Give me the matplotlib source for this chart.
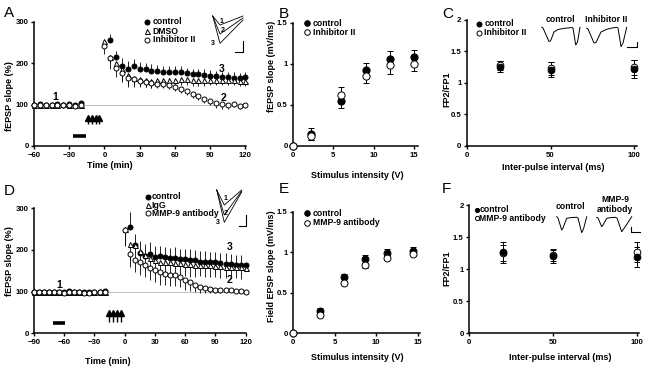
import matplotlib
matplotlib.use("Agg")
import matplotlib.pyplot as plt
import matplotlib.transforms as mtransforms
from matplotlib.ticker import FormatStrFormatter
import numpy as np

W, H = 647, 367

# ---------------- data ----------------
# A: LTP time course, inhibitor II
tA_base = np.arange(-60, -15, 5)
tA_post = np.arange(0, 125, 5)
A_ctrl_base = [100, 101, 99, 100, 101, 100, 101, 99, 103]
A_dmso_base = [100, 99, 100, 98, 100, 101, 100, 98, 100]
A_inh_base = [100, 100, 98, 99, 99, 100, 99, 97, 100]
A_ctrl_post = [256, 214, 193, 187, 193, 186, 186, 182, 181, 179, 178, 178, 178, 175,
               173, 173, 171, 170, 169, 166, 166, 165, 163, 166]  # from 5 min
A_ctrl_err = [15, 15, 20, 18, 17, 17, 15, 16, 15, 15, 15, 15, 14, 14, 14, 14, 14, 13,
              13, 13, 13, 13, 12, 12]
A_dmso_post = [254, 215, 200, 185, 172, 165, 162, 160, 158, 160, 160, 160, 160, 162,
               162, 160, 160, 160, 160, 160, 160, 160, 159, 158, 158]
A_dmso_err = [12, 15, 20, 28, 30, 22, 20, 18, 17, 16, 16, 15, 15, 15, 15, 14, 14, 14,
              13, 13, 13, 13, 12, 12, 12]
A_inh_post = [242, 212, 188, 175, 165, 162, 158, 155, 152, 150, 150, 147, 143, 138,
              132, 125, 120, 113, 108, 103, 101, 100, 101, 97, 98]
A_inh_err = [20, 25, 22, 20, 18, 14, 12, 12, 11, 10, 10, 10, 10, 10, 10, 10, 10, 9, 9,
             12, 12, 10, 8, 8, 6]
A_tetanus = [-14, -10.5, -7.5, -4.5]
A_drug_bar = [-27, -16]

# B: input-output
B_volt = [0, 2.2, 6, 9, 12, 15]
B_ctrl = [0, 0.14, 0.54, 0.92, 1.06, 1.08]
B_ctrl_err = [0, 0.07, 0.085, 0.09, 0.09, 0.09]
B_inh = [0, 0.12, 0.62, 0.85, 0.98, 1.0]
B_inh_err = [0, 0.05, 0.09, 0.08, 0.1, 0.09]

# C: paired-pulse
C_ipi = [20, 50, 100]
C_ctrl = [1.26, 1.21, 1.22]
C_ctrl_err = [0.09, 0.12, 0.15]
C_inh = [1.28, 1.23, 1.25]
C_inh_err = [0.07, 0.1, 0.12]

# D: LTP time course, MMP-9 antibody
tD_base = np.arange(-90, -15, 5)
tD_post = np.arange(0, 125, 5)
D_ctrl_base = [100, 99, 100, 99, 99, 100, 98, 101, 100, 99, 98, 99, 100, 100, 102]
D_igg_base = [100, 98, 99, 98, 99, 99, 98, 100, 100, 99, 98, 98, 99, 99, 100]
D_mmp_base = [100, 99, 98, 99, 98, 99, 97, 100, 99, 98, 97, 97, 98, 98, 100]
D_ctrl_post = [255, 213, 192, 186, 191, 184, 185, 182, 180, 181, 178, 178, 177, 175,
               172, 172, 170, 170, 168, 167, 166, 165, 165, 165]  # from 5 min
D_ctrl_err = [35, 25, 30, 28, 28, 25, 25, 25, 25, 25, 25, 25, 25, 25, 25, 25, 25, 25,
              25, 25, 24, 24, 24, 24]
D_igg_post = [250, 215, 212, 198, 187, 180, 175, 172, 171, 170, 168, 168, 167, 166,
              165, 165, 164, 163, 162, 161, 160, 160, 159, 158, 157]
D_igg_err = [40, 40, 38, 36, 35, 33, 32, 30, 30, 30, 30, 30, 30, 30, 30, 28, 28, 28,
             28, 28, 27, 27, 27, 27, 27]
D_mmp_post = [247, 190, 177, 170, 165, 157, 152, 147, 143, 141, 139, 135, 128, 123,
              117, 112, 108, 106, 104, 103, 105, 103, 102, 101, 100]
D_mmp_err = [35, 30, 30, 30, 30, 30, 30, 30, 28, 28, 26, 25, 24, 22, 18, 15, 12, 10,
             8, 6, 5, 4, 4, 3, 3]
D_tetanus = [-15.5, -11.5, -7.5, -3.5]
D_drug_bar = [-71.5, -59.5]

# E: input-output
E_volt = [0, 3.3, 6.1, 8.6, 11.3, 14.4]
E_ctrl = [0, 0.27, 0.69, 0.92, 0.99, 1.01]
E_ctrl_err = [0, 0.04, 0.04, 0.05, 0.05, 0.05]
E_mmp = [0, 0.23, 0.62, 0.84, 0.93, 0.98]
E_mmp_err = [0, 0.03, 0.03, 0.03, 0.03, 0.03]

# F: paired-pulse
F_ipi = [20, 50, 100]
F_ctrl = [1.26, 1.20, 1.19]
F_ctrl_err = [0.16, 0.10, 0.15]
F_mmp = [1.25, 1.22, 1.27]
F_mmp_err = [0.13, 0.09, 0.16]

# example fEPSP traces (inset units)
A_trace_t = [3.7, 11, 34]
A_traces = [[-4, -13, -4], [-4, -22, -6], [-4, -31.3, -8]]
D_trace_t = [4.7, 12.3, 29.7]
D_traces = [[-2, -17, -2], [-2, -27, -3], [-2, -34.3, -4]]
C_pp_t = [1.7, 3, 9, 10.5, 14, 18, 25, 32, 33, 35.7, 37.5, 40]
C_pp_ctrl = [-3.3, -4, -17.5, -17, -8, -5.5, -4.2, -3.6, -4, -21, -18, -3.3]
C_pp_t2 = [46.7, 48, 54, 56, 61, 66.7, 72, 76.7, 78, 81, 83, 86.7]
C_pp_inh = [-4.3, -5, -19, -18.5, -8, -5.3, -4, -3.3, -4, -22.7, -19, -3.3]
F_pp_t = [6.7, 8, 11.7, 13, 16.7, 22, 26.7, 28, 31.7, 33.5, 36.7]
F_pp_ctrl = [-6.7, -8, -20, -18, -8.3, -7.5, -7.3, -8, -22.7, -19, -6.7]
F_pp_t2 = [46.7, 48, 51.7, 53, 56.7, 61, 65, 67, 71.7, 75, 81.7]
F_pp_mmp = [-7.3, -8, -16.7, -15, -8.3, -7.6, -7.3, -8, -21.7, -17, -6.7]

# ---------------- style ----------------
plt.rcParams.update({
    "font.family": ["Liberation Sans", "DejaVu Sans"],
    "font.weight": "bold",
    "font.size": 6,
    "axes.linewidth": 1.1,
    "xtick.major.size": 2.2,
    "ytick.major.size": 2.2,
    "xtick.major.width": 1.0,
    "ytick.major.width": 1.0,
    "xtick.major.pad": 2,
    "ytick.major.pad": 1.6,
    "xtick.labelsize": 5.6,
    "ytick.labelsize": 5.6,
})

fig = plt.figure(figsize=(W / 100, H / 100), dpi=100)
PIX = mtransforms.Affine2D().scale(1 / W, -1 / H).translate(0, 1) + fig.transFigure
LBL = 6.5


def px_axes(x0, y0, x1, y1):
    return fig.add_axes([x0 / W, 1 - y1 / H, (x1 - x0) / W, (y1 - y0) / H])


def base_style(ax):
    for s in ("top", "right"):
        ax.spines[s].set_visible(False)
    ax.tick_params(direction="out", colors="k")


def set_labels(ax, xl, xpos, yl, ypos):
    ax.set_xlabel(xl, fontsize=LBL, fontweight="bold")
    ax.xaxis.set_label_coords(*xpos, transform=PIX)
    ax.xaxis.label.set_va("center")
    ax.set_ylabel(yl, fontsize=LBL, fontweight="bold")
    ax.yaxis.set_label_coords(*ypos, transform=PIX)
    ax.yaxis.label.set_va("center")


def legend_rows(ax, rows, mx, tx, ys, ms):
    for (marker, face, text), y in zip(rows, ys):
        ax.plot([mx], [y], marker=marker, ms=ms, mfc=face, mec="k", mew=0.7,
                ls="none", transform=PIX, clip_on=False)
        ax.text(tx, y, text, transform=PIX, va="center", ha="left", fontsize=6.2)


def one_sided(ax, t, y, err, up, zorder):
    z = np.zeros(len(err))
    yerr = [z, err] if up else [err, z]
    ax.errorbar(t, y, yerr=yerr, fmt="none", ecolor="k", elinewidth=0.6,
                capsize=0, zorder=zorder)


def pts(ax, t, y, marker, face, ms, zorder):
    ax.plot(t, y, ls="none", marker=marker, ms=ms, mfc=face, mec="k", mew=0.7,
            zorder=zorder, clip_on=False)


def tetanus(ax, times, y0, y1, ms):
    ax.vlines(times, y0, y1, color="k", lw=1.0)
    ax.plot(times, [y1] * len(times), ls="none", marker="^", ms=ms, color="k")


def inset_box(x0, y0, x1, y1):
    ia = px_axes(x0, y0, x1, y1)
    ia.set_xlim(0, x1 - x0)
    ia.set_ylim(-(y1 - y0), 0)
    ia.axis("off")
    return ia


def panel_letter(x, y, s):
    fig.text(x, y, s, transform=PIX, fontsize=11, fontweight="normal",
             va="baseline", ha="left")


# ---------------- A ----------------
ax = px_axes(34, 21.7, 246, 146)
base_style(ax)
ax.set_xlim(-60, 120.5)
ax.set_ylim(0, 300)
ax.set_xticks([-60, -30, 0, 30, 60, 90, 120])
ax.set_yticks([0, 100, 200, 300])
ax.axhline(100, color="#b5b5b5", lw=0.6, zorder=0)
one_sided(ax, tA_post[1:], A_ctrl_post, A_ctrl_err, True, 2)
one_sided(ax, tA_post, A_dmso_post, A_dmso_err, False, 2)
one_sided(ax, tA_post, A_inh_post, A_inh_err, False, 2)
pts(ax, tA_base, A_ctrl_base, "o", "k", 3.6, 3)
pts(ax, tA_post[1:], A_ctrl_post, "o", "k", 3.6, 3)
pts(ax, tA_base, A_dmso_base, "^", "white", 3.6, 4)
pts(ax, tA_post, A_dmso_post, "^", "white", 3.6, 4)
pts(ax, tA_base, A_inh_base, "o", "white", 3.6, 5)
pts(ax, tA_post, A_inh_post, "o", "white", 3.6, 5)
tetanus(ax, A_tetanus, 53, 68, 4.2)
ax.plot(A_drug_bar, [23, 23], color="k", lw=2.6, solid_capstyle="butt")
ax.text(-41.5, 118, "1", fontsize=7.5, ha="center", va="center")
ax.text(100, 186, "3", fontsize=7.5, ha="center", va="center")
ax.text(101.5, 115, "2", fontsize=7.5, ha="center", va="center")
set_labels(ax, "Time (min)", (110, 165.5), "fEPSP slope (%)", (10, 96))
legend_rows(ax, [("o", "k", "control"), ("^", "white", "DMSO"),
                 ("o", "white", "Inhibitor II")], 146.7, 152.7, [21.7, 31, 40], 3.6)
ia = inset_box(209, 12, 249, 56)
for tr in A_traces:
    ia.plot(A_trace_t, tr, color="k", lw=0.6)
ia.plot([26, 34.3, 34.3], [-39.7, -39.7, -28.7], color="k", lw=0.8)
for s, x, y in [("1", 12.7, -9.7), ("2", 13.7, -18.7), ("3", 4.3, -31.3)]:
    ia.text(x, y, s, fontsize=5, ha="center", va="center")
panel_letter(4, 17, "A")

# ---------------- B ----------------
ax = px_axes(293, 22.7, 418, 145.7)
base_style(ax)
ax.set_xlim(0, 15.5)
ax.set_ylim(0, 1.5)
ax.set_xticks([0, 5, 10, 15])
ax.set_yticks([0, 0.5, 1, 1.5])
ax.yaxis.set_major_formatter(FormatStrFormatter("%g"))
ax.errorbar(B_volt, B_ctrl, yerr=B_ctrl_err, fmt="none", ecolor="k", elinewidth=0.7,
            capsize=2, capthick=0.7, zorder=2)
ax.errorbar(B_volt, B_inh, yerr=B_inh_err, fmt="none", ecolor="k", elinewidth=0.7,
            capsize=2, capthick=0.7, zorder=2)
pts(ax, B_volt, B_ctrl, "o", "k", 5.2, 3)
pts(ax, B_volt, B_inh, "o", "white", 5.2, 4)
set_labels(ax, "Stimulus intensity (V)", (357, 175.5), "fEPSP slope (mV/ms)", (271.7, 66))
legend_rows(ax, [("o", "k", "control"), ("o", "white", "Inhibitor II")],
            306.7, 312.7, [23.3, 32.3], 4)
panel_letter(279, 18, "B")

# ---------------- C ----------------
ax = px_axes(466.7, 20, 636.7, 145.7)
base_style(ax)
ax.set_xlim(0, 101.4)
ax.set_ylim(0, 2)
ax.set_xticks([0, 50, 100])
ax.set_yticks([0, 0.5, 1, 1.5, 2])
ax.yaxis.set_major_formatter(FormatStrFormatter("%g"))
ax.errorbar(C_ipi, C_ctrl, yerr=C_ctrl_err, fmt="none", ecolor="k", elinewidth=0.7,
            capsize=2, capthick=0.7, zorder=2)
ax.errorbar(C_ipi, C_inh, yerr=C_inh_err, fmt="none", ecolor="k", elinewidth=0.7,
            capsize=2, capthick=0.7, zorder=2)
pts(ax, C_ipi, C_inh, "o", "white", 4.8, 3)
pts(ax, C_ipi, C_ctrl, "o", "k", 4.8, 4)
set_labels(ax, "Inter-pulse interval (ms)", (553, 167), "FP2/FP1", (447, 89))
legend_rows(ax, [("o", "k", "control"), ("o", "white", "Inhibitor II")],
            479.3, 484.3, [24, 32.7], 3.6)
ia = inset_box(540, 24, 640, 50)
ia.plot(C_pp_t, C_pp_ctrl, color="k", lw=0.7)
ia.plot(C_pp_t2, C_pp_inh, color="k", lw=0.7)
ia.plot([86.7, 96.7, 96.7], [-23, -23, -17.5], color="k", lw=0.8)
fig.text(560, 19.3, "control", transform=PIX, fontsize=6.2, ha="center", va="center")
fig.text(605.7, 19.3, "Inhibitor II", transform=PIX, fontsize=6.2, ha="center", va="center")
panel_letter(442, 18, "C")

# ---------------- D ----------------
ax = px_axes(34, 208.3, 246, 333.3)
base_style(ax)
ax.set_xlim(-90, 120.3)
ax.set_ylim(0, 300)
ax.set_xticks([-90, -60, -30, 0, 30, 60, 90, 120])
ax.set_yticks([0, 100, 200, 300])
ax.axhline(100, color="#b5b5b5", lw=0.6, zorder=0)
one_sided(ax, tD_post[1:], D_ctrl_post, D_ctrl_err, True, 2)
one_sided(ax, tD_post, D_igg_post, D_igg_err, False, 2)
one_sided(ax, tD_post, D_mmp_post, D_mmp_err, False, 2)
pts(ax, tD_base, D_ctrl_base, "o", "k", 3.6, 3)
pts(ax, tD_post[1:], D_ctrl_post, "o", "k", 3.6, 3)
pts(ax, tD_base, D_igg_base, "^", "white", 3.6, 4)
pts(ax, tD_post, D_igg_post, "^", "white", 3.6, 4)
pts(ax, tD_base, D_mmp_base, "o", "white", 3.6, 5)
pts(ax, tD_post, D_mmp_post, "o", "white", 3.6, 5)
tetanus(ax, D_tetanus, 28, 48, 4.2)
ax.plot(D_drug_bar, [25, 25], color="k", lw=2.6, solid_capstyle="butt")
ax.text(-65, 116, "1", fontsize=7.5, ha="center", va="center")
ax.text(103.7, 208, "3", fontsize=7.5, ha="center", va="center")
ax.text(104.4, 128, "2", fontsize=7.5, ha="center", va="center")
set_labels(ax, "Time (min)", (108, 362), "fEPSP slope (%)", (10, 261))
legend_rows(ax, [("o", "k", "control"), ("^", "white", "IgG"),
                 ("o", "white", "MMP-9 antibody")], 147.7, 151.7,
            [196.7, 205, 213.3], 3.6)
ia = inset_box(212, 188, 250, 230)
for tr in D_traces:
    ia.plot(D_trace_t, tr, color="k", lw=0.6)
ia.plot([27, 34, 34], [-38, -38, -26.5], color="k", lw=0.8)
for s, x, y in [("1", 14, -10.3), ("2", 13.7, -25.3), ("3", 6, -34)]:
    ia.text(x, y, s, fontsize=5, ha="center", va="center")
panel_letter(4, 195, "D")

# ---------------- E ----------------
ax = px_axes(293, 211.7, 420, 333.3)
base_style(ax)
ax.set_xlim(0, 15.25)
ax.set_ylim(0, 1.5)
ax.set_xticks([0, 5, 10, 15])
ax.set_yticks([0, 0.5, 1, 1.5])
ax.yaxis.set_major_formatter(FormatStrFormatter("%g"))
ax.errorbar(E_volt, E_ctrl, yerr=E_ctrl_err, fmt="none", ecolor="k", elinewidth=0.7,
            capsize=2, capthick=0.7, zorder=2)
ax.errorbar(E_volt, E_mmp, yerr=E_mmp_err, fmt="none", ecolor="k", elinewidth=0.7,
            capsize=2, capthick=0.7, zorder=2)
pts(ax, E_volt, E_ctrl, "o", "k", 5, 3)
pts(ax, E_volt, E_mmp, "o", "white", 5, 4)
set_labels(ax, "Stimulus intensity (V)", (357, 358), "Field EPSP slope (mV/ms)",
           (271.7, 266))
legend_rows(ax, [("o", "k", "control"), ("o", "white", "MMP-9 antibody")],
            306.7, 312.7, [213.3, 222.7], 4)
panel_letter(279, 193, "E")

# ---------------- F ----------------
ax = px_axes(469, 205, 639, 333.3)
base_style(ax)
ax.set_xlim(0, 101)
ax.set_ylim(0, 2)
ax.set_xticks([0, 50, 100])
ax.set_yticks([0, 0.5, 1, 1.5, 2])
ax.yaxis.set_major_formatter(FormatStrFormatter("%g"))
ax.errorbar(F_ipi, F_ctrl, yerr=F_ctrl_err, fmt="none", ecolor="k", elinewidth=0.7,
            capsize=2, capthick=0.7, zorder=2)
ax.errorbar(F_ipi, F_mmp, yerr=F_mmp_err, fmt="none", ecolor="k", elinewidth=0.7,
            capsize=2, capthick=0.7, zorder=2)
pts(ax, F_ipi, F_mmp, "o", "white", 4.8, 3)
pts(ax, F_ipi, F_ctrl, "o", "k", 4.8, 4)
set_labels(ax, "Inter-pulse interval (ms)", (560, 357.5), "FP2/FP1", (447, 268))
legend_rows(ax, [("o", "k", "control"), ("o", "white", "MMP-9 antibody")],
            476.7, 479.3, [210, 218.3], 3)
ia = inset_box(550, 210, 645, 240)
ia.plot(F_pp_t, F_pp_ctrl, color="k", lw=0.7)
ia.plot(F_pp_t2, F_pp_mmp, color="k", lw=0.7)
ia.plot([80.7, 80.7, 90], [-16.7, -22.3, -22.3], color="k", lw=0.8)
fig.text(570, 206.7, "control", transform=PIX, fontsize=6.2, ha="center", va="center")
fig.text(615, 200, "MMP-9", transform=PIX, fontsize=6.2, ha="center", va="center")
fig.text(615, 209.3, "antibody", transform=PIX, fontsize=6.2, ha="center", va="center")
panel_letter(442, 193, "F")

fig.savefig("out.png", dpi=100)
